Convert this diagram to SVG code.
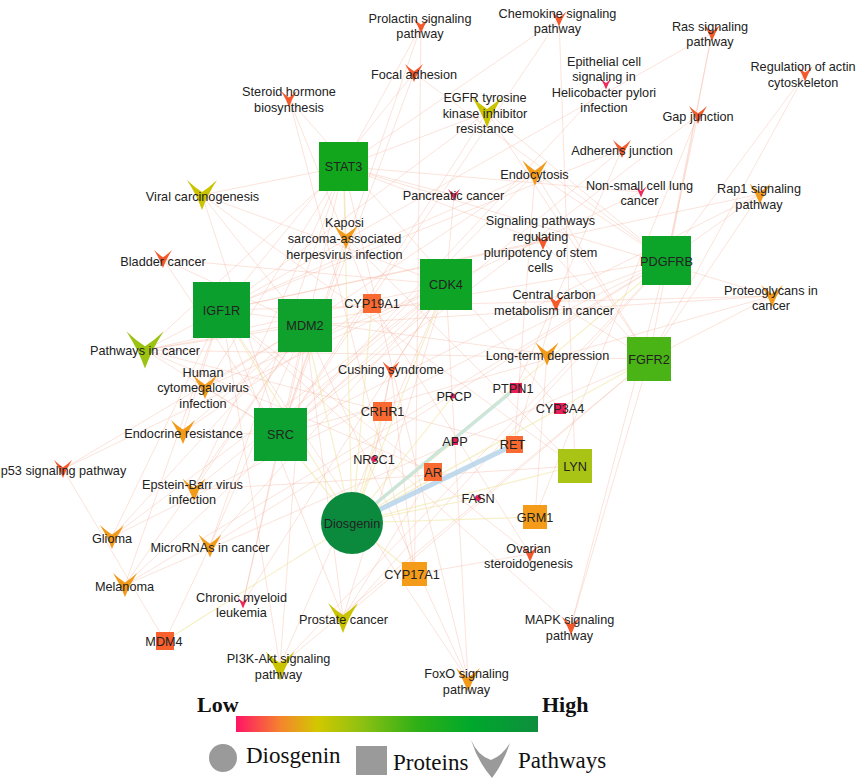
<svg xmlns="http://www.w3.org/2000/svg" xmlns:xlink="http://www.w3.org/1999/xlink" width="858" height="782" viewBox="0 0 858 782">
<defs>
<style>
text{font-family:"Liberation Sans",Arial,sans-serif;font-size:12.7px;fill:#222;text-anchor:middle}
.e{fill:none;stroke:#f5b09a;stroke-width:0.8;stroke-opacity:0.45}
.d{fill:none;stroke:#efe39a;stroke-width:1.2;stroke-opacity:0.55}
.lg{font-family:"Liberation Serif","Times New Roman",serif;font-size:23px;fill:#111;text-anchor:start}
.lb{font-family:"Liberation Serif","Times New Roman",serif;font-size:22px;font-weight:bold;fill:#111;text-anchor:start}
.ro{fill:#f4592c}.pk{fill:#ee2a5a}.or{fill:#f29a1a}.ol{fill:#c9c300}.yg{fill:#9cc212}
.pr{fill:#e8205a}.po{fill:#f96a32}.pg{fill:#f49c1a}
</style>
<path id="pv" d="M-0.5,-0.5 Q-0.25,-0.26 0,-0.1 Q0.25,-0.26 0.5,-0.5 Q0.18,0 0,0.5 Q-0.18,0 -0.5,-0.5Z"/>
<linearGradient id="grad" x1="0" y1="0" x2="1" y2="0">
<stop offset="0" stop-color="#ff1466"/>
<stop offset="0.15" stop-color="#f4862c"/>
<stop offset="0.27" stop-color="#d2c800"/>
<stop offset="0.42" stop-color="#8cc012"/>
<stop offset="0.6" stop-color="#2eb016"/>
<stop offset="0.78" stop-color="#00a82c"/>
<stop offset="1" stop-color="#0e8e3e"/>
</linearGradient>
</defs>
<rect width="858" height="782" fill="#fff"/>
<g id="connectors">
<path class="e" d="M421 26L343.5 166.5M421 26L280.5 434.5M421 26L414.5 574"/>
<path class="e" d="M559 19L343.5 166.5M559 19L280.5 434.5M559 19L575 466"/>
<path class="e" d="M712 33L666.5 260.5M712 33L221.5 310M712 33L649 359"/>
<path class="e" d="M805 74L666.5 260.5M805 74L649 359"/>
<path class="e" d="M606 84L280.5 434.5"/>
<path class="e" d="M698 115L666.5 260.5M698 115L280.5 434.5M698 115L535 517"/>
<path class="e" d="M414 73L666.5 260.5M414 73L221.5 310M414 73L280.5 434.5"/>
<path class="e" d="M289 99L372 303.5M289 99L414.5 574M289 99L560 408.5"/>
<path class="e" d="M487 112L343.5 166.5M487 112L280.5 434.5M487 112L666.5 260.5M487 112L221.5 310M487 112L649 359"/>
<path class="e" d="M622 149L280.5 434.5M622 149L221.5 310M622 149L516 388"/>
<path class="e" d="M535 173L280.5 434.5M535 173L666.5 260.5M535 173L221.5 310M535 173L649 359M535 173L514.5 444.5M535 173L305 325.5"/>
<path class="e" d="M641 192L343.5 166.5M641 192L446 284.5"/>
<path class="e" d="M760 194L666.5 260.5M760 194L221.5 310M760 194L649 359M760 194L280.5 434.5"/>
<path class="e" d="M454 195L343.5 166.5M454 195L446 284.5"/>
<path class="e" d="M202 195L343.5 166.5M202 195L446 284.5M202 195L280.5 434.5M202 195L575 466M202 195L305 325.5"/>
<path class="e" d="M346 237L343.5 166.5M346 237L280.5 434.5M346 237L575 466"/>
<path class="e" d="M543 242L343.5 166.5M543 242L221.5 310M543 242L649 359"/>
<path class="e" d="M163 259L446 284.5M163 259L305 325.5M163 259L280.5 434.5"/>
<path class="e" d="M556 303L666.5 260.5M556 303L649 359M556 303L514.5 444.5"/>
<path class="e" d="M772 296L343.5 166.5M772 296L305 325.5M772 296L280.5 434.5M772 296L221.5 310M772 296L649 359"/>
<path class="e" d="M145 350L343.5 166.5M145 350L446 284.5M145 350L305 325.5M145 350L280.5 434.5M145 350L666.5 260.5M145 350L221.5 310M145 350L649 359M145 350L514.5 444.5M145 350L433 472"/>
<path class="e" d="M547 354L535 517M547 354L221.5 310"/>
<path class="e" d="M391 370L446 284.5M391 370L382.5 411.5M391 370L414.5 574M391 370L374 459"/>
<path class="e" d="M205 387L343.5 166.5M205 387L446 284.5M205 387L305 325.5M205 387L280.5 434.5"/>
<path class="e" d="M183 432L305 325.5M183 432L280.5 434.5M183 432L221.5 310M183 432L372 303.5"/>
<path class="e" d="M63 469L446 284.5M63 469L305 325.5M63 469L165 641"/>
<path class="e" d="M194 490L343.5 166.5M194 490L446 284.5M194 490L305 325.5M194 490L575 466"/>
<path class="e" d="M112 537L446 284.5M112 537L305 325.5M112 537L221.5 310M112 537L666.5 260.5"/>
<path class="e" d="M210 546L305 325.5M210 546L165 641M210 546L446 284.5M210 546L343.5 166.5M210 546L666.5 260.5"/>
<path class="e" d="M125 585L446 284.5M125 585L305 325.5M125 585L221.5 310M125 585L666.5 260.5M125 585L649 359"/>
<path class="e" d="M243 603L446 284.5M243 603L305 325.5M243 603L343.5 166.5"/>
<path class="e" d="M530 554L372 303.5M530 554L414.5 574M530 554L221.5 310"/>
<path class="e" d="M343 618L433 472M343 618L305 325.5M343 618L446 284.5M343 618L221.5 310M343 618L666.5 260.5M343 618L649 359"/>
<path class="e" d="M280 666L666.5 260.5M280 666L221.5 310M280 666L649 359M280 666L446 284.5M280 666L305 325.5"/>
<path class="e" d="M571 626L666.5 260.5M571 626L221.5 310M571 626L649 359"/>
<path class="e" d="M468 680L446 284.5M468 680L305 325.5M468 680L221.5 310M468 680L343.5 166.5"/>
<path class="d" d="M352 523L343.5 166.5M352 523L446 284.5M352 523L666.5 260.5M352 523L221.5 310M352 523L305 325.5M352 523L280.5 434.5M352 523L649 359M352 523L575 466M352 523L372 303.5M352 523L382.5 411.5M352 523L560 408.5M352 523L453 396M352 523L455 441M352 523L374 459M352 523L433 472M352 523L478 498M352 523L535 517M352 523L414.5 574M352 523L165 641"/>
<line x1="352" y1="523" x2="516" y2="388" stroke="#c4e2d8" stroke-width="3.5" stroke-opacity="0.85"/>
<line x1="352" y1="523" x2="514.5" y2="444.5" stroke="#b6d3ea" stroke-width="5" stroke-opacity="0.85"/>
</g>
<g id="pathways">
<g id="p-prolactin"><use xlink:href="#pv" class="ro" transform="translate(421 26) scale(15)"/><text x="420" y="22.5">Prolactin signaling<tspan x="420" dy="15">pathway</tspan></text></g>
<g id="p-chemokine"><use xlink:href="#pv" class="ro" transform="translate(559 19) scale(15)"/><text x="557.5" y="17.5">Chemokine signaling<tspan x="557.5" dy="15">pathway</tspan></text></g>
<g id="p-ras"><use xlink:href="#pv" class="ro" transform="translate(712 33) scale(16)"/><text x="710" y="30.5">Ras signaling<tspan x="710" dy="15.5">pathway</tspan></text></g>
<g id="p-actin"><use xlink:href="#pv" class="ro" transform="translate(805 74) scale(15)"/><text x="803" y="71">Regulation of actin<tspan x="803" dy="16">cytoskeleton</tspan></text></g>
<g id="p-epithelial"><use xlink:href="#pv" class="pk" transform="translate(606 84) scale(11)"/><text x="604" y="65.5">Epithelial cell<tspan x="604" dy="15.5">signaling in</tspan><tspan x="604" dy="15.5">Helicobacter pylori</tspan><tspan x="604" dy="15.5">infection</tspan></text></g>
<g id="p-gap"><use xlink:href="#pv" class="ro" transform="translate(698 115) scale(18)"/><text x="698" y="120.5">Gap junction</text></g>
<g id="p-focal"><use xlink:href="#pv" class="ro" transform="translate(414 73) scale(18)"/><text x="414" y="78.5">Focal adhesion</text></g>
<g id="p-steroid"><use xlink:href="#pv" class="ro" transform="translate(289 99) scale(16)"/><text x="289" y="95.5">Steroid hormone<tspan x="289" dy="16">biosynthesis</tspan></text></g>
<g id="p-egfr"><use xlink:href="#pv" class="ol" transform="translate(487 112) scale(31)"/><text x="485" y="101.5">EGFR tyrosine<tspan x="485" dy="16">kinase inhibitor</tspan><tspan x="485" dy="15.5">resistance</tspan></text></g>
<g id="p-adherens"><use xlink:href="#pv" class="ro" transform="translate(622 149) scale(18)"/><text x="622" y="154.5">Adherens junction</text></g>
<g id="p-endocytosis"><use xlink:href="#pv" class="or" transform="translate(535 173) scale(25)"/><text x="534.5" y="178.5">Endocytosis</text></g>
<g id="p-nsclc"><use xlink:href="#pv" class="pk" transform="translate(641 192) scale(11)"/><text x="639.5" y="189.5">Non-small cell lung<tspan x="639.5" dy="15.5">cancer</tspan></text></g>
<g id="p-rap1"><use xlink:href="#pv" class="or" transform="translate(760 194) scale(21)"/><text x="759" y="192.5">Rap1 signaling<tspan x="759" dy="16">pathway</tspan></text></g>
<g id="p-pancreatic"><use xlink:href="#pv" class="pk" transform="translate(454 195) scale(12)"/><text x="453.5" y="199.5">Pancreatic cancer</text></g>
<g id="p-viral"><use xlink:href="#pv" class="ol" transform="translate(202 195) scale(30)"/><text x="202.5" y="200.5">Viral carcinogenesis</text></g>
<g id="p-kaposi"><use xlink:href="#pv" class="or" transform="translate(346 237) scale(24)"/><text x="344.5" y="227">Kaposi<tspan x="344.5" dy="15.5">sarcoma-associated</tspan><tspan x="344.5" dy="16">herpesvirus infection</tspan></text></g>
<g id="p-pluripotency"><use xlink:href="#pv" class="ro" transform="translate(543 242) scale(16)"/><text x="540.5" y="224.5">Signaling pathways<tspan x="540.5" dy="16">regulating</tspan><tspan x="540.5" dy="16">pluripotency of stem</tspan><tspan x="540.5" dy="15">cells</tspan></text></g>
<g id="p-bladder"><use xlink:href="#pv" class="ro" transform="translate(163 259) scale(18)"/><text x="163" y="265.5">Bladder cancer</text></g>
<g id="p-carbon"><use xlink:href="#pv" class="ro" transform="translate(556 303) scale(17)"/><text x="554" y="298.5">Central carbon<tspan x="554" dy="16">metabolism in cancer</tspan></text></g>
<g id="p-proteoglycans"><use xlink:href="#pv" class="or" transform="translate(772 296) scale(22)"/><text x="771" y="294.5">Proteoglycans in<tspan x="771" dy="15">cancer</tspan></text></g>
<g id="p-cancer"><use xlink:href="#pv" class="yg" transform="translate(145 350) scale(37)"/><text x="145" y="354.5">Pathways in cancer</text></g>
<g id="p-ltd"><use xlink:href="#pv" class="or" transform="translate(547 354) scale(23)"/><text x="547.5" y="359.5">Long-term depression</text></g>
<g id="p-cushing"><use xlink:href="#pv" class="ro" transform="translate(391 370) scale(17)"/><text x="391" y="373.5">Cushing syndrome</text></g>
<g id="p-hcmv"><use xlink:href="#pv" class="or" transform="translate(205 387) scale(24)"/><text x="203" y="376.5">Human<tspan x="203" dy="15">cytomegalovirus</tspan><tspan x="203" dy="16">infection</tspan></text></g>
<g id="p-endocrine"><use xlink:href="#pv" class="or" transform="translate(183 432) scale(24)"/><text x="183.5" y="437.5">Endocrine resistance</text></g>
<g id="p-p53"><use xlink:href="#pv" class="ro" transform="translate(63 469) scale(18)"/><text x="63.5" y="474.5">p53 signaling pathway</text></g>
<g id="p-ebv"><use xlink:href="#pv" class="or" transform="translate(194 490) scale(23)"/><text x="192.5" y="488.5">Epstein-Barr virus<tspan x="192.5" dy="15">infection</tspan></text></g>
<g id="p-glioma"><use xlink:href="#pv" class="or" transform="translate(112 537) scale(24)"/><text x="112" y="542.5">Glioma</text></g>
<g id="p-mirna"><use xlink:href="#pv" class="or" transform="translate(210 546) scale(23)"/><text x="210" y="551.5">MicroRNAs in cancer</text></g>
<g id="p-melanoma"><use xlink:href="#pv" class="or" transform="translate(125 585) scale(24)"/><text x="124.5" y="590.5">Melanoma</text></g>
<g id="p-cml"><use xlink:href="#pv" class="pk" transform="translate(243 603) scale(11)"/><text x="241.5" y="601.5">Chronic myeloid<tspan x="241.5" dy="15">leukemia</tspan></text></g>
<g id="p-ovarian"><use xlink:href="#pv" class="ro" transform="translate(530 554) scale(16)"/><text x="528.5" y="552.5">Ovarian<tspan x="528.5" dy="15">steroidogenesis</tspan></text></g>
<g id="p-prostate"><use xlink:href="#pv" class="ol" transform="translate(343 618) scale(30)"/><text x="343.5" y="623.5">Prostate cancer</text></g>
<g id="p-pi3k"><use xlink:href="#pv" class="ol" transform="translate(280 666) scale(29)"/><text x="278.5" y="662.5">PI3K-Akt signaling<tspan x="278.5" dy="16">pathway</tspan></text></g>
<g id="p-mapk"><use xlink:href="#pv" class="ro" transform="translate(571 626) scale(18)"/><text x="569.5" y="623.5">MAPK signaling<tspan x="569.5" dy="16">pathway</tspan></text></g>
<g id="p-foxo"><use xlink:href="#pv" class="or" transform="translate(468 680) scale(24)"/><text x="466.5" y="677.5">FoxO signaling<tspan x="466.5" dy="16">pathway</tspan></text></g>
</g>
<g id="proteins">
<g id="n-stat3"><rect x="319" y="142" width="49" height="49" fill="#12a61c"/><text x="343.5" y="171">STAT3</text></g>
<g id="n-cdk4"><rect x="420" y="259" width="52" height="51" fill="#0ea526"/><text x="446" y="289">CDK4</text></g>
<g id="n-pdgfrb"><rect x="642" y="236" width="49" height="49" fill="#0ca52a"/><text x="666.5" y="266">PDGFRB</text></g>
<g id="n-igf1r"><rect x="193" y="282" width="57" height="56" fill="#0b9f2e"/><text x="221.5" y="314.5">IGF1R</text></g>
<g id="n-mdm2"><rect x="278" y="299" width="54" height="53" fill="#10a02c"/><text x="305" y="330">MDM2</text></g>
<g id="n-src"><rect x="254" y="408" width="53" height="53" fill="#0ca030"/><text x="280.5" y="439">SRC</text></g>
<g id="n-fgfr2"><rect x="627" y="337" width="44" height="44" fill="#4ab315"/><text x="649" y="363.5">FGFR2</text></g>
<g id="n-lyn"><rect x="558" y="449" width="34" height="34" fill="#a9c415"/><text x="575" y="470.5">LYN</text></g>
<g id="n-cyp19a1"><rect x="363" y="294" width="18" height="19" class="po"/><text x="372" y="308">CYP19A1</text></g>
<g id="n-crhr1"><rect x="373" y="402" width="19" height="19" class="po"/><text x="382.5" y="416">CRHR1</text></g>
<g id="n-ptpn1"><rect x="510" y="383" width="12" height="10" class="pr"/><text x="513" y="392.5">PTPN1</text></g>
<g id="n-cyp3a4"><rect x="554" y="403" width="12" height="11" class="pr"/><text x="560" y="413">CYP3A4</text></g>
<g id="n-prcp"><circle cx="453" cy="396" r="2.5" class="pr"/><text x="454" y="400.5">PRCP</text></g>
<g id="n-app"><rect x="452" y="437" width="6" height="8" class="pr"/><text x="455" y="445.5">APP</text></g>
<g id="n-nr3c1"><circle cx="374" cy="459" r="3" class="pr"/><text x="374" y="464">NR3C1</text></g>
<g id="n-ret"><rect x="506" y="436" width="17" height="17" class="po"/><text x="512.5" y="449">RET</text></g>
<g id="n-ar"><rect x="424" y="463" width="18" height="18" class="po"/><text x="433" y="476.5">AR</text></g>
<g id="n-fasn"><circle cx="478" cy="498" r="3" class="pr"/><text x="478" y="502.5">FASN</text></g>
<g id="n-grm1"><rect x="523" y="505" width="24" height="24" class="pg"/><text x="535" y="521.5">GRM1</text></g>
<g id="n-cyp17a1"><rect x="402" y="562" width="25" height="24" class="pg"/><text x="412" y="578.5">CYP17A1</text></g>
<g id="n-mdm4"><rect x="156" y="632" width="18" height="18" fill="#f8602e"/><text x="164" y="646">MDM4</text></g>
</g>
<g id="n-diosgenin"><circle cx="352" cy="523" r="31" fill="#0b8a3e"/><text x="352" y="527.5">Diosgenin</text></g>
<g id="legend">
<text class="lb" x="197" y="712">Low</text>
<text class="lb" x="542" y="712">High</text>
<rect x="236" y="716" width="302" height="16" fill="url(#grad)"/>
<circle cx="223" cy="758" r="14" fill="#9a9a9a"/>
<text class="lg" x="246" y="763">Diosgenin</text>
<rect x="356" y="746" width="31" height="29" fill="#9a9a9a"/>
<text class="lg" x="393" y="770">Proteins</text>
<path d="M471 740 Q478 756 491 760 Q502 756 510 743 Q503 764 492 778 Q478 762 471 740Z" fill="#9a9a9a"/>
<text class="lg" x="518" y="768">Pathways</text>
</g>
</svg>
